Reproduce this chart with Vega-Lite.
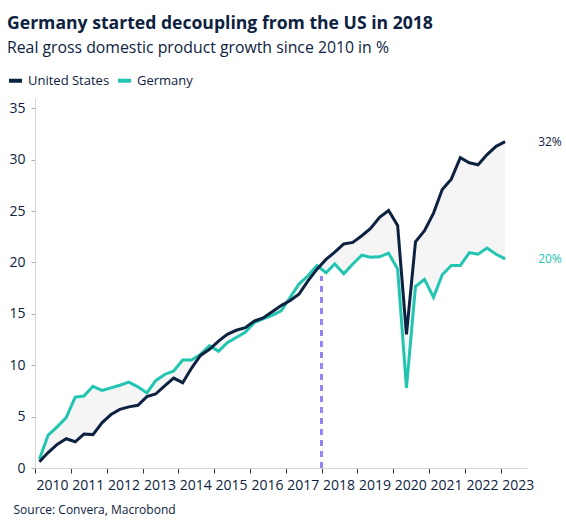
{
  "$schema": "https://vega.github.io/schema/vega-lite/v6.json",
  "width": 492,
  "height": 370,
  "padding": {"left": 7, "top": 14, "right": 5, "bottom": 5},
  "background": "white",
  "config": {
    "font": "Open Sans",
    "view": {"stroke": null}
  },
  "title": {
    "text": "Germany started decoupling from the US in 2018",
    "subtitle": "Real gross domestic product growth since 2010 in %",
    "anchor": "start",
    "frame": "bounds",
    "font": "Open Sans",
    "fontSize": 17.6,
    "fontWeight": "bold",
    "color": "#0d2240",
    "subtitleFont": "Open Sans",
    "subtitleFontSize": 15.8,
    "subtitleColor": "#0d2240",
    "subtitlePadding": 9,
    "offset": 16
  },
  "datasets": {
    "gdp": [
      {"date": "2010-02-15", "us": 0.6, "de": 0.85},
      {"date": "2010-05-15", "us": 1.5, "de": 3.2},
      {"date": "2010-08-15", "us": 2.3, "de": 4.0},
      {"date": "2010-11-15", "us": 2.85, "de": 4.9},
      {"date": "2011-02-15", "us": 2.55, "de": 6.9},
      {"date": "2011-05-15", "us": 3.3, "de": 7.0},
      {"date": "2011-08-15", "us": 3.25, "de": 7.95},
      {"date": "2011-11-15", "us": 4.4, "de": 7.55},
      {"date": "2012-02-15", "us": 5.2, "de": 7.8},
      {"date": "2012-05-15", "us": 5.7, "de": 8.05},
      {"date": "2012-08-15", "us": 5.95, "de": 8.35},
      {"date": "2012-11-15", "us": 6.1, "de": 7.9},
      {"date": "2013-02-15", "us": 6.95, "de": 7.3},
      {"date": "2013-05-15", "us": 7.2, "de": 8.5},
      {"date": "2013-08-15", "us": 8.0, "de": 9.1},
      {"date": "2013-11-15", "us": 8.75, "de": 9.45},
      {"date": "2014-02-15", "us": 8.3, "de": 10.5},
      {"date": "2014-05-15", "us": 9.7, "de": 10.5},
      {"date": "2014-08-15", "us": 10.95, "de": 11.05},
      {"date": "2014-11-15", "us": 11.55, "de": 11.9},
      {"date": "2015-02-15", "us": 12.35, "de": 11.35},
      {"date": "2015-05-15", "us": 13.0, "de": 12.2},
      {"date": "2015-08-15", "us": 13.4, "de": 12.7},
      {"date": "2015-11-15", "us": 13.65, "de": 13.2},
      {"date": "2016-02-15", "us": 14.3, "de": 14.15},
      {"date": "2016-05-15", "us": 14.6, "de": 14.5},
      {"date": "2016-08-15", "us": 15.2, "de": 14.85},
      {"date": "2016-11-15", "us": 15.8, "de": 15.3},
      {"date": "2017-02-15", "us": 16.3, "de": 16.6},
      {"date": "2017-05-15", "us": 16.9, "de": 17.9},
      {"date": "2017-08-15", "us": 18.2, "de": 18.7},
      {"date": "2017-11-15", "us": 19.35, "de": 19.7},
      {"date": "2018-02-15", "us": 20.3, "de": 19.0},
      {"date": "2018-05-15", "us": 21.0, "de": 19.85},
      {"date": "2018-08-15", "us": 21.8, "de": 18.9},
      {"date": "2018-11-15", "us": 21.95, "de": 19.85},
      {"date": "2019-02-15", "us": 22.6, "de": 20.7},
      {"date": "2019-05-15", "us": 23.3, "de": 20.5},
      {"date": "2019-08-15", "us": 24.4, "de": 20.55},
      {"date": "2019-11-15", "us": 25.05, "de": 20.9},
      {"date": "2020-02-15", "us": 23.6, "de": 19.35},
      {"date": "2020-05-15", "us": 13.0, "de": 7.8},
      {"date": "2020-08-15", "us": 22.0, "de": 17.65},
      {"date": "2020-11-15", "us": 23.1, "de": 18.35},
      {"date": "2021-02-15", "us": 24.8, "de": 16.6},
      {"date": "2021-05-15", "us": 27.1, "de": 18.8},
      {"date": "2021-08-15", "us": 28.1, "de": 19.7},
      {"date": "2021-11-15", "us": 30.2, "de": 19.7},
      {"date": "2022-02-15", "us": 29.7, "de": 20.95},
      {"date": "2022-05-15", "us": 29.5, "de": 20.8},
      {"date": "2022-08-15", "us": 30.5, "de": 21.4},
      {"date": "2022-11-15", "us": 31.3, "de": 20.8},
      {"date": "2023-02-15", "us": 31.75, "de": 20.35}
    ],
    "endLabels": [
      {"date": "2023-02-15", "value": 31.75, "label": "32%", "series": "United States"},
      {"date": "2023-02-15", "value": 20.35, "label": "20%", "series": "Germany"}
    ],
    "names": [
      {"key": "us", "series": "United States"},
      {"key": "de", "series": "Germany"}
    ]
  },
  "data": {"name": "gdp"},
  "layer": [
    {
      "mark": {"type": "area", "color": "#f5f5f5"},
      "encoding": {
        "x": {
          "field": "date",
          "type": "temporal",
          "scale": {
            "type": "utc",
            "domain": [
              {"year": 2010, "month": 1, "date": 1, "utc": true},
              {"year": 2023, "month": 9, "date": 26, "utc": true}
            ]
          },
          "axis": {
            "format": "%Y",
            "tickCount": {"interval": "year", "step": 1},
            "grid": false,
            "labelOffset": 17,
            "labelFontSize": 14,
            "labelColor": "#0d2240",
            "labelPadding": 5,
            "labelFlush": false,
            "labelOverlap": false,
            "tickSize": 5,
            "tickColor": "#333333",
            "domainColor": "#d6d6d6",
            "title": "Source: Convera, Macrobond",
            "titleFontSize": 12,
            "titleFontWeight": "normal",
            "titleColor": "#0d2240",
            "titleAnchor": "start",
            "titleAlign": "left",
            "titleX": -22,
            "titleY": 45,
            "titleBaseline": "alphabetic"
          }
        },
        "y": {
          "field": "us",
          "type": "quantitative",
          "scale": {"domain": [0, 36], "nice": false},
          "axis": {
            "values": [0, 5, 10, 15, 20, 25, 30, 35],
            "grid": false,
            "title": null,
            "labelFontSize": 14,
            "labelColor": "#0d2240",
            "labelPadding": 6,
            "tickSize": 4,
            "tickColor": "#b0b0b0",
            "domainColor": "#d6d6d6"
          }
        },
        "y2": {"field": "de"}
      }
    },
    {
      "mark": {"type": "rule", "color": "#9b82f2", "strokeWidth": 2, "strokeDash": [6, 5]},
      "encoding": {
        "x": {"datum": {"year": 2018, "month": 1, "date": 1, "utc": true}, "type": "temporal"},
        "y": {"datum": 0, "type": "quantitative"},
        "y2": {"datum": 18.6}
      }
    },
    {
      "transform": [
        {"fold": ["us", "de"], "as": ["key", "value"]},
        {"lookup": "key", "from": {"data": {"name": "names"}, "key": "key", "fields": ["series"]}},
        {"filter": "datum.key === 'de'"}
      ],
      "mark": {"type": "line", "strokeWidth": 3},
      "encoding": {
        "x": {"field": "date", "type": "temporal"},
        "y": {"field": "value", "type": "quantitative"},
        "color": {
          "field": "series",
          "type": "nominal",
          "scale": {"domain": ["United States", "Germany"], "range": ["#0d2240", "#22c5b0"]},
          "legend": {
            "title": null,
            "orient": "none",
            "legendX": -28,
            "legendY": -26,
            "direction": "horizontal",
            "symbolType": "stroke",
            "symbolStrokeWidth": 4,
            "symbolSize": 169,
            "labelFontSize": 13,
            "labelColor": "#0d2240",
            "labelOffset": 4,
            "columnPadding": 0
          }
        }
      }
    },
    {
      "transform": [
        {"fold": ["us", "de"], "as": ["key", "value"]},
        {"lookup": "key", "from": {"data": {"name": "names"}, "key": "key", "fields": ["series"]}},
        {"filter": "datum.key === 'us'"}
      ],
      "mark": {"type": "line", "strokeWidth": 3},
      "encoding": {
        "x": {"field": "date", "type": "temporal"},
        "y": {"field": "value", "type": "quantitative"},
        "color": {"field": "series", "type": "nominal"}
      }
    },
    {
      "data": {"name": "endLabels"},
      "mark": {"type": "text", "align": "left", "dx": 33, "fontSize": 12, "baseline": "middle"},
      "encoding": {
        "x": {"field": "date", "type": "temporal"},
        "y": {"field": "value", "type": "quantitative"},
        "text": {"field": "label"},
        "color": {"field": "series", "type": "nominal"}
      }
    }
  ]
}
